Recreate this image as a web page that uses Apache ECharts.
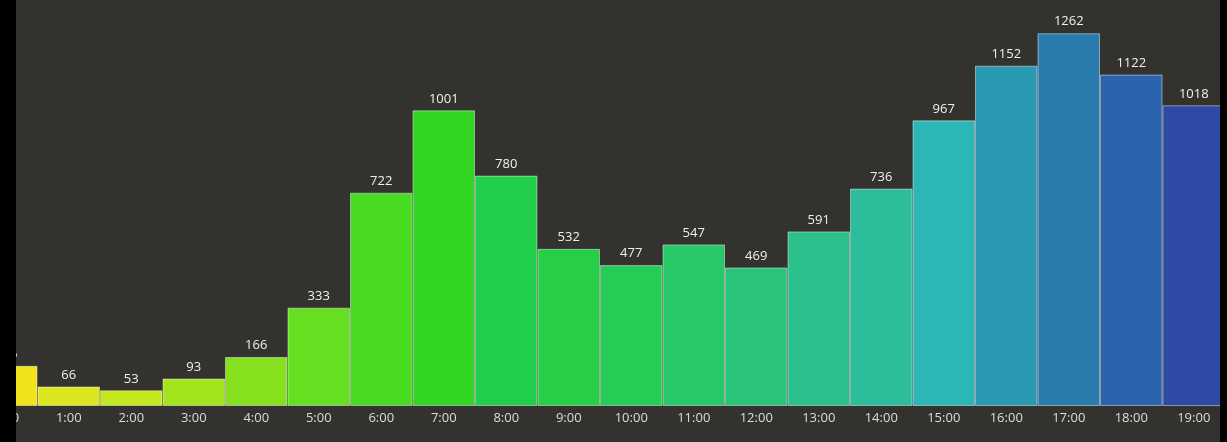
<!DOCTYPE html>
<html>
<head>
<meta charset="utf-8">
<script src="https://cdn.jsdelivr.net/npm/echarts@6/dist/echarts.min.js"></script>
<style>
  html, body { margin: 0; padding: 0; background: #000; width: 1227px; height: 442px; overflow: hidden; }
  #wrap { position: absolute; left: 16px; top: 0; width: 1204px; height: 442px; overflow: hidden; background: #33322f; }
  #chart { position: absolute; left: -41px; top: 0; width: 1300px; height: 442px; }
</style>
</head>
<body>
<div id="wrap"><div id="chart"></div></div>
<script>
const categories = ['0:00','1:00','2:00','3:00','4:00','5:00','6:00','7:00','8:00','9:00','10:00','11:00','12:00','13:00','14:00','15:00','16:00','17:00','18:00','19:00'];
const values = [136, 66, 53, 93, 166, 333, 722, 1001, 780, 532, 477, 547, 469, 591, 736, 967, 1152, 1262, 1122, 1018];
const barColors = ['#f2e21a','#dbe61e','#c3e81e','#a3e41c','#86e01e','#66df20','#48db22','#30d622','#22cf4a','#26cf46','#25cc55','#27c868','#2ac47a','#2cc08c','#2cbe9a','#2bb7b8','#2a9ab2','#2b7cae','#2c63ad','#2f4aa5'];

const chart = echarts.init(document.getElementById('chart'), null, { renderer: 'canvas' });
chart.setOption({
  backgroundColor: 'transparent',
  animation: false,
  grid: { left: 0, right: 50, top: 22, bottom: 36, containLabel: false },
  xAxis: {
    type: 'category',
    data: categories,
    axisLine: { show: false },
    axisTick: { show: false },
    axisLabel: { color: '#dcdcdc', fontSize: 13, fontFamily: 'Open Sans', margin: 6, interval: 0 }
  },
  yAxis: {
    type: 'value',
    min: 0,
    max: 1300,
    show: false,
    splitLine: { show: false }
  },
  series: [{
    type: 'bar',
    barCategoryGap: '0%',
    data: values.map((v, i) => ({ value: v, itemStyle: { color: barColors[i] } })),
    itemStyle: { borderColor: 'rgba(255,255,255,0.45)', borderWidth: 1 },
    label: { show: true, position: 'top', distance: 5, color: '#f0f0f0', fontSize: 13, fontFamily: 'Open Sans' }
  }]
});
</script>
</body>
</html>
